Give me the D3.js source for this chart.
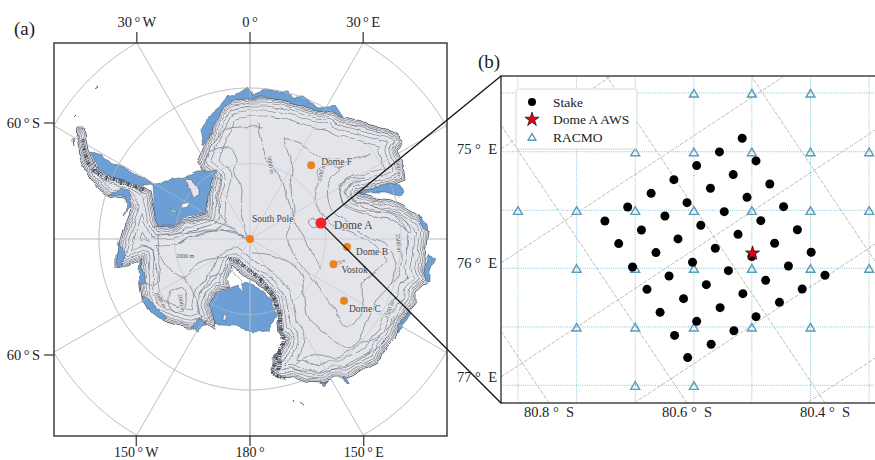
<!DOCTYPE html>
<html>
<head>
<meta charset="utf-8">
<script src="https://d3js.org/d3.v7.min.js"></script>
<style>
  html, body { margin: 0; padding: 0; background: #fff; overflow: hidden; }
  text { font-family: "Liberation Serif", serif; fill: #222; }
</style>
</head>
<body>
<div id="chart"></div>
<script>
// PANEL A DATA
// sites, lon / lat
const siteNames = ["Dome F", "South Pole", "Dome B", "Vostok", "Dome C"];
const siteLons = [39.7, 0, 94.7, 106.8, 123.35];
const siteLats = [-77.32, -90, -77.1, -78.46, -75.1];
const domeA = [77.37, -80.37];

const lonTop = [-30, 0, 30];
const lonTopLabels = ["30 ° W", "0 °", "30 ° E"];
const lonBottom = [-150, 180, 150];
const lonBottomLabels = ["150 ° W", "180 °", "150 ° E"];
const parallelTicks = [-116, 116];

// outlines, in map units east / south of the pole
const groundingLine = [[-23,-136],[-17,-138],[0,-141],[17,-141],[33,-139],[50,-134],[67,-129],[83,-127],[93,-121],[110,-117],[127,-112],[140,-109],[150,-104],[153,-96],[147,-89],[153,-74],[155,-59],[140,-53],[122,-49],[108,-46],[125,-41],[142,-39],[152,-34],[163,-27],[174,-17],[178,-6],[176,6],[175,19],[173,29],[180,41],[166,53],[166,63],[158,73],[150,84],[145,99],[135,109],[128,123],[108,133],[98,139],[85,139],[72,144],[55,143],[45,139],[28,138],[22,133],[22,119],[32,111],[37,99],[29,93],[27,76],[24,61],[13,48],[0,41],[-10,33],[-17,27],[-22,39],[-20,48],[-29,50],[-38,60],[-41,66],[-37,76],[-34,91],[-43,84],[-57,89],[-63,89],[-80,84],[-100,74],[-108,59],[-110,46],[-108,19],[-127,29],[-134,28],[-134,16],[-128,-1],[-125,-12],[-118,-32],[-125,-41],[-142,-43],[-150,-49],[-160,-61],[-170,-81],[-174,-99],[-173,-111],[-166,-111],[-164,-99],[-162,-89],[-155,-73],[-135,-63],[-115,-56],[-100,-47],[-97,-34],[-95,-22],[-90,-11],[-77,-12],[-67,-19],[-43,-25],[-42,-46],[-37,-61],[-45,-67],[-48,-69],[-52,-79],[-47,-91],[-37,-112],[-27,-132]];

const iceShelves = [
  [[-98,-54],[-83,-59],[-67,-62],[-53,-68],[-32,-69],[-37,-61],[-42,-46],[-43,-26],[-67,-21],[-77,-13],[-90,-11],[-95,-22],[-97,-39]],
  [[-20,49],[-10,45],[-3,44],[12,51],[22,61],[26,78],[18,92],[3,93],[-15,87],[-28,86],[-34,86],[-39,71],[-41,65],[-32,52]],
  [[-50,-107],[-42,-122],[-30,-132],[-23,-144],[-17,-142],[-2,-152],[3,-144],[17,-149],[37,-149],[43,-142],[52,-142],[60,-136],[70,-132],[85,-134],[93,-122],[83,-127],[67,-129],[50,-134],[33,-139],[17,-141],[0,-141],[-17,-138],[-25,-133],[-37,-112],[-47,-94]],
  [[115,-49],[128,-51],[138,-56],[150,-54],[153,-46],[150,-42],[135,-46],[122,-46],[110,-45]],
  [[167,-24],[177,-16],[178,-6],[173,-11],[168,-19]],
  [[175,26],[178,16],[187,19],[185,24],[180,29],[180,43],[176,41],[174,33]],
  [[155,79],[160,71],[162,73],[152,89],[148,93],[148,86]],
  [[95,136],[100,144],[97,145],[94,139]],
  [[70,144],[77,143],[73,147]],
  [[-160,-87],[-147,-84],[-137,-74],[-125,-71],[-107,-61],[-98,-54],[-107,-53],[-137,-60],[-152,-70],[-157,-81]],
  [[-142,-44],[-130,-52],[-122,-47],[-118,-34],[-127,-24],[-122,-36],[-128,-44]],
  [[-132,3],[-125,16],[-127,29],[-130,29],[-133,16]],
  [[-110,19],[-107,33],[-105,44],[-110,46],[-111,31]],
  [[-107,58],[-98,63],[-82,79],[-88,81],[-100,73],[-108,61]],
  [[-60,89],[-52,79],[-43,84],[-53,92]],
];

const iceRises = [
  [[-65,-62],[-58,-61],[-52,-52],[-52,-44],[-57,-42],[-62,-51]],
  [[-27,76],[-23,78],[-25,83],[-28,81]],
];
const shelfHoles = [
  [[-80,-31],[-73,-26],[-77,-27]],
  [[-67,-34],[-60,-36],[-63,-31],[-69,-30]],
  [[-23,39],[-17,31],[-12,38],[-5,53],[-13,46],[-20,49]],
];

const contours = [
  [[33,-101],[50,-96],[70,-82],[87,-79],[103,-77],[93,-72],[73,-72],[67,-66],[68,-56],[65,-39],[70,-29],[78,-19],[90,-11],[103,-6],[127,8],[135,21],[127,31],[112,44],[112,74],[98,88],[83,68],[63,41],[45,19],[37,-4],[43,-26],[40,-52],[43,-69],[37,-89],[33,-101]],
  [[8,-116],[18,-79],[32,-59],[38,-36],[48,-12],[63,14],[72,30]],
  [[3,14],[28,18],[52,36],[54,61],[58,79],[75,93],[95,109],[108,103],[118,81],[128,59],[148,36],[152,16],[150,3]],
  [[42,128],[62,116],[88,118],[108,106],[135,93],[148,76]],
  [[38,129],[65,133],[95,128],[128,109]],
  [[112,-59],[95,-49],[102,-39],[128,-32],[152,-22],[162,-6]],
  [[115,-62],[92,-56],[92,-39],[108,-29],[138,-26],[155,-12],[158,11]],
  [[122,-86],[95,-76],[78,-52],[82,-29],[98,-16],[118,-2],[135,4],[145,21],[140,46]],
  [[-92,-4],[-90,13],[-77,33],[-65,39],[-53,24],[-23,18]],
  [[-110,6],[-100,9],[-93,33],[-95,46],[-105,43]],
  [[-65,39],[-53,63],[-47,83],[-37,76]],
  [[-50,56],[-40,39],[-27,33],[-22,26]],
  [[-80,53],[-67,49],[-65,68],[-75,73],[-82,63],[-80,53]],
  [[-70,4],[-50,-6],[-17,-7],[0,1]],
  [[-40,-87],[-23,-92],[-13,-79],[-17,-66],[-7,-49],[-10,-32],[-2,-2]],
  [[-38,-59],[-30,-59],[-33,-39],[-27,-19],[-7,-2]],
  [[-97,-12],[-70,-16],[-40,-19],[-13,-9]],
  [[-100,-2],[-67,-6],[-37,-9],[-3,-2]],
  [[-45,-74],[-40,-89],[-25,-109],[-10,-112],[12,-112]],
  [[58,-17],[64,-20],[72,-15],[70,-11],[62,-12],[58,-17]],
  [[85,24],[95,21],[88,26]],
];

// mountain belts where the contours run together
const denseBelts = [
  [[-22,19],[-10,25],[2,33],[12,43],[22,56],[28,71],[31,91],[33,106],[25,121],[23,133],[35,139]],
  [[-168,-100],[-165,-85],[-158,-72],[-145,-62],[-125,-56],[-105,-48]],
  [[30,112],[28,133]],
];

const islands = [
  [[-153,-153],[-156,-151]],
  [[-175,-122],[-173,-124]],
  [[-178,-99],[-177,-93]],
  [[43,160],[44,162]],
  [[49,163],[53,166]],
];

const coastRings = [18, 12, 8, 5, 3, 1.5];

const contourLabelText = ["3000 m", "3500 m", "2000 m", "2000 m", "2000 m", "1500 m", "2500 m", "2500 m"];
const contourLabelX = [20, 72, -65, -69, -90, 140, 148, 148];
const contourLabelY = [-74, -66, 18, 64, 61, 71, 4, -72];
const contourLabelAngle = [78, -75, 0, 80, 60, -70, 85, 85];

// PANEL B DATA
const stakeLat = [80.520,80.553,80.500,80.586,80.533,80.619,80.480,80.566,80.652,80.513,80.600,80.686,80.460,80.546,80.632,80.719,80.493,80.580,80.666,80.440,80.526,80.613,80.699,80.473,80.559,80.645,80.420,80.506,80.592,80.679,80.453,80.540,80.626,80.400,80.486,80.572,80.658,80.433,80.519,80.605,80.466,80.552,80.639,80.500,80.586,80.532,80.618,80.565,80.599];
const stakeLon = [74.906,75.026,75.105,75.146,75.225,75.269,75.307,75.345,75.389,75.424,75.471,75.509,75.506,75.550,75.588,75.632,75.629,75.670,75.711,75.708,75.749,75.789,75.830,75.827,75.871,75.909,75.906,75.944,75.994,76.035,76.026,76.067,76.114,76.108,76.152,76.190,76.231,76.228,76.269,76.313,76.345,76.392,76.433,76.471,76.512,76.594,76.635,76.713,76.830];
const awsLat = 80.505;
const awsLon = 75.915;

const racmoLats = [80.845, 80.760, 80.675, 80.590, 80.506, 80.421, 80.336];
const racmoLons = [74.509, 75.024, 75.538, 76.046, 76.561, 77.073];
// RACMO cells shown, [lat index, lon index]
const racmoCells = [[3,0],[4,0],[5,0],[2,1],[3,1],[4,1],[5,1],[6,1],[0,2],[1,2],[2,2],[3,2],[4,2],[5,2],[6,2],[1,3],[2,3],[3,3],[4,3],[5,3],[6,3],[1,4],[2,4],[3,4],[4,4],[5,4],[2,5],[3,5]];

const latTicks = [80.8, 80.6, 80.4];
const latTickLabels = ["80.8 °  S", "80.6 °  S", "80.4 °  S"];
const lonTicks = [75, 76, 77];
const lonTickLabels = ["75 °  E", "76 °  E", "77 °  E"];
const tiltedLats = [80.8, 80.6, 80.4, 80.19];
const tiltedLons = [75, 76, 77, 78, 79];

const legendLabels = ["Stake", "Dome A AWS", "RACMO"];

// CONSTANTS
const width = 875;
const height = 460;
const frameA = { left: 54, right: 447, top: 43, bottom: 436 };
const frameB = { left: 501, right: 875, top: 76, bottom: 403 };
const landColor = "#e4e5ea";
const shelfColor = "#6c9fd6";
const contourColor = "#6f737c";
const orange = "#ea8320";
const gridBlue = "#86c5d8";
const triBlue = "#5b9ab9";

const svg = d3
  .select("#chart")
  .append("svg")
  .attr("width", width)
  .attr("height", height)
  .attr("viewBox", [0, 0, width, height]);

const defs = svg.append("defs");

const addClip = (id, f) => {
  defs
    .append("clipPath")
    .attr("id", id)
    .append("rect")
    .attr("x", f.left)
    .attr("y", f.top)
    .attr("width", f.right - f.left)
    .attr("height", f.bottom - f.top);
};
addClip("clip-a", frameA);
addClip("clip-b", frameB);

// small wiggle so the traced outlines do not look straight
const rough = defs
  .append("filter")
  .attr("id", "rough")
  .attr("filterUnits", "userSpaceOnUse")
  .attr("color-interpolation-filters", "sRGB")
  .attr("x", frameA.left)
  .attr("y", frameA.top)
  .attr("width", frameA.right - frameA.left)
  .attr("height", frameA.bottom - frameA.top);
rough
  .append("feTurbulence")
  .attr("type", "fractalNoise")
  .attr("baseFrequency", 0.07)
  .attr("numOctaves", 2)
  .attr("seed", 4)
  .attr("result", "noise");
rough
  .append("feDisplacementMap")
  .attr("in", "SourceGraphic")
  .attr("in2", "noise")
  .attr("scale", 6)
  .attr("xChannelSelector", "R")
  .attr("yChannelSelector", "G");

// PANEL A
const mapX = d3.scaleLinear().domain([-196, 197]).range([frameA.left, frameA.right]);
const mapY = d3.scaleLinear().domain([-196, 197]).range([frameA.top, frameA.bottom]);

const projection = d3
  .geoAzimuthalEquidistant()
  .rotate([0, 90])
  .scale(432.6)
  .translate([mapX(0), mapY(0)])
  .precision(0.3);
const geoPath = d3.geoPath(projection);
const graticule = d3.geoGraticule().extent([[-180, -90], [180.01, -50]]).step([30, 10]);

const mapLine = d3.line().x((d) => mapX(d[0])).y((d) => mapY(d[1]));
const closedPath = (pts) => mapLine(pts) + "Z";

const panelA = svg.append("g");
const mapLayer = panelA.append("g").attr("clip-path", "url(#clip-a)");

mapLayer
  .append("path")
  .datum(graticule())
  .attr("d", geoPath)
  .attr("fill", "none")
  .attr("stroke", "#cfcfcf")
  .attr("stroke-width", 1);

const roughLayer = mapLayer.append("g").attr("filter", "url(#rough)");

defs.append("clipPath").attr("id", "clip-land").append("path").attr("d", closedPath(groundingLine));

const landLayer = roughLayer.append("g");
landLayer.append("path").attr("d", closedPath(groundingLine)).attr("fill", landColor);

const ringLayer = landLayer.append("g").attr("clip-path", "url(#clip-land)");
// nested coastal contours: a wide stroke, then land colour on top leaves one thin line inland
coastRings.forEach((inset) => {
  ringLayer
    .append("path")
    .attr("d", closedPath(groundingLine))
    .attr("fill", "none")
    .attr("stroke", contourColor)
    .attr("stroke-linejoin", "round")
    .attr("stroke-width", 2 * inset + 0.55);
  ringLayer
    .append("path")
    .attr("d", closedPath(groundingLine))
    .attr("fill", "none")
    .attr("stroke", landColor)
    .attr("stroke-linejoin", "round")
    .attr("stroke-width", 2 * inset - 0.55);
});

landLayer
  .append("path")
  .attr("d", closedPath(groundingLine))
  .attr("fill", "none")
  .attr("stroke", "#4f5660")
  .attr("stroke-width", 0.8);

// shelves sit on top of the ice sheet edge
roughLayer
  .selectAll(".shelf")
  .data(iceShelves)
  .enter()
  .append("path")
  .attr("d", closedPath)
  .attr("fill", shelfColor)
  .attr("stroke", "#4f5660")
  .attr("stroke-width", 0.5);

const smooth = d3
  .line()
  .x((d) => mapX(d[0]))
  .y((d) => mapY(d[1]))
  .curve(d3.curveCatmullRom);

const detailLayer = roughLayer.append("g");

detailLayer
  .selectAll(".contour")
  .data(contours)
  .enter()
  .append("path")
  .attr("d", smooth)
  .attr("fill", "none")
  .attr("stroke", contourColor)
  .attr("stroke-width", 0.7);

detailLayer
  .selectAll(".belt")
  .data(denseBelts)
  .enter()
  .append("path")
  .attr("d", smooth)
  .attr("fill", "none")
  .attr("stroke", "#4c515b")
  .attr("stroke-width", 4)
  .attr("stroke-dasharray", "1,0.8,2.2,1.2,0.8,1.6");

detailLayer
  .selectAll(".rise")
  .data(iceRises)
  .enter()
  .append("path")
  .attr("d", closedPath)
  .attr("fill", landColor)
  .attr("stroke", "#4f5660")
  .attr("stroke-width", 0.5);

detailLayer
  .selectAll(".hole")
  .data(shelfHoles)
  .enter()
  .append("path")
  .attr("d", closedPath)
  .attr("fill", "#fff")
  .attr("stroke", "#4f5660")
  .attr("stroke-width", 0.4);

detailLayer
  .selectAll(".island")
  .data(islands)
  .enter()
  .append("path")
  .attr("d", mapLine)
  .attr("fill", "none")
  .attr("stroke", "#5a5f68")
  .attr("stroke-width", 1);

// graticule shows faintly through the ice sheet
mapLayer
  .append("path")
  .datum(graticule())
  .attr("d", geoPath)
  .attr("fill", "none")
  .attr("stroke", "#bfc1c6")
  .attr("stroke-width", 0.7)
  .attr("stroke-opacity", 0.8);

contourLabelText.forEach((t, i) => {
  mapLayer
    .append("text")
    .attr("transform", `translate(${mapX(contourLabelX[i])},${mapY(contourLabelY[i])}) rotate(${contourLabelAngle[i]})`)
    .attr("text-anchor", "middle")
    .attr("dominant-baseline", "middle")
    .attr("stroke", landColor)
    .attr("stroke-width", 1.5)
    .attr("paint-order", "stroke")
    .style("font-size", "6px")
    .style("fill", "#555")
    .text(t);
});

// sites
siteNames.forEach((name, i) => {
  const p = projection([siteLons[i], siteLats[i]]);
  panelA
    .append("circle")
    .attr("cx", p[0])
    .attr("cy", p[1])
    .attr("r", 4)
    .attr("fill", orange);
});

const siteLabelDx = [10, 2, 9, 8, 5];
const siteLabelDy = [-3, -19, 6, 7, 9];
siteNames.forEach((name, i) => {
  const p = projection([siteLons[i], siteLats[i]]);
  panelA
    .append("text")
    .attr("x", p[0] + siteLabelDx[i])
    .attr("y", p[1] + siteLabelDy[i])
    .attr("dominant-baseline", "middle")
    .attr("stroke", landColor)
    .attr("stroke-width", 2)
    .attr("paint-order", "stroke")
    .style("font-size", "9.5px")
    .style("fill", "#444")
    .text(name);
});

const domeAPoint = projection(domeA);

// frame and ticks
panelA
  .append("rect")
  .attr("x", frameA.left)
  .attr("y", frameA.top)
  .attr("width", frameA.right - frameA.left)
  .attr("height", frameA.bottom - frameA.top)
  .attr("fill", "none")
  .attr("stroke", "#333")
  .attr("stroke-width", 1.4);

// the tick positions are where those meridians leave the frame
const topAxis = d3
  .scaleOrdinal()
  .domain(lonTop)
  .range(lonTop.map((d) => mapX(0) + (mapY(0) - frameA.top) * Math.tan((d * Math.PI) / 180)));
const bottomAxis = d3
  .scaleOrdinal()
  .domain(lonBottom)
  .range(lonBottom.map((d) => mapX(0) - (frameA.bottom - mapY(0)) * Math.tan((d * Math.PI) / 180)));

lonTop.forEach((d, i) => {
  panelA
    .append("line")
    .attr("x1", topAxis(d))
    .attr("x2", topAxis(d))
    .attr("y1", frameA.top - 11)
    .attr("y2", frameA.top)
    .attr("stroke", "#333")
    .attr("stroke-width", 1.2);
  panelA
    .append("text")
    .attr("x", topAxis(d))
    .attr("y", 27)
    .attr("text-anchor", "middle")
    .style("font-size", "14.5px")
    .style("word-spacing", "-1.2px")
    .text(lonTopLabels[i]);
});

lonBottom.forEach((d, i) => {
  panelA
    .append("line")
    .attr("x1", bottomAxis(d))
    .attr("x2", bottomAxis(d))
    .attr("y1", frameA.bottom)
    .attr("y2", frameA.bottom + 10)
    .attr("stroke", "#333")
    .attr("stroke-width", 1.2);
  panelA
    .append("text")
    .attr("x", bottomAxis(d))
    .attr("y", 457)
    .attr("text-anchor", "middle")
    .style("font-size", "14px")
    .style("word-spacing", "-1px")
    .text(lonBottomLabels[i]);
});

parallelTicks.forEach((d) => {
  panelA
    .append("line")
    .attr("x1", frameA.left - 10)
    .attr("x2", frameA.left)
    .attr("y1", mapY(d))
    .attr("y2", mapY(d))
    .attr("stroke", "#333")
    .attr("stroke-width", 1.2);
  panelA
    .append("text")
    .attr("x", frameA.left - 14)
    .attr("y", mapY(d) + 5)
    .attr("text-anchor", "end")
    .style("font-size", "14.5px")
    .style("word-spacing", "-1.2px")
    .text("60 ° S");
});

svg
  .append("text")
  .attr("x", 14)
  .attr("y", 35)
  .style("font-size", "19px")
  .text("(a)");

// PANEL B
const latScale = d3.scaleLinear().domain([80.8696, 80.3275]).range([frameB.left, frameB.right]);
const lonScale = d3.scaleLinear().domain([74.36, 77.228]).range([frameB.top, frameB.bottom]);

const panelB = svg.append("g");
const plot = panelB.append("g").attr("clip-path", "url(#clip-b)");

// grid of the tilted geographic lines, both families drift with the map rotation
const latDrift = 0.317;
const lonDrift = 2.165;

plot
  .selectAll(".lat-line")
  .data(tiltedLats)
  .enter()
  .append("line")
  .attr("x1", (d) => latScale(d))
  .attr("y1", lonScale(77.228))
  .attr("x2", (d) => latScale(d + latDrift))
  .attr("y2", lonScale(74.36))
  .attr("stroke", "#bdbdbd")
  .attr("stroke-width", 1)
  .attr("stroke-dasharray", "4,1.5");

plot
  .selectAll(".lon-line")
  .data(tiltedLons)
  .enter()
  .append("line")
  .attr("x1", latScale(80.8696))
  .attr("y1", (d) => lonScale(d))
  .attr("x2", latScale(80.3275))
  .attr("y2", (d) => lonScale(d - lonDrift))
  .attr("stroke", "#bdbdbd")
  .attr("stroke-width", 1)
  .attr("stroke-dasharray", "4,1.5");

plot
  .selectAll(".racmo-v")
  .data(racmoLats)
  .enter()
  .append("line")
  .attr("x1", (d) => latScale(d))
  .attr("x2", (d) => latScale(d))
  .attr("y1", frameB.top)
  .attr("y2", frameB.bottom)
  .attr("stroke", gridBlue)
  .attr("stroke-width", 1)
  .attr("stroke-dasharray", "1,1.2");

plot
  .selectAll(".racmo-h")
  .data(racmoLons)
  .enter()
  .append("line")
  .attr("x1", frameB.left)
  .attr("x2", frameB.right)
  .attr("y1", (d) => lonScale(d))
  .attr("y2", (d) => lonScale(d))
  .attr("stroke", gridBlue)
  .attr("stroke-width", 1)
  .attr("stroke-dasharray", "1,1.2");

const triangle = d3.symbol().type(d3.symbolTriangle).size(34);
const star = d3.symbol().type(d3.symbolStar).size(62);

plot
  .selectAll(".racmo")
  .data(racmoCells)
  .enter()
  .append("path")
  .attr("d", triangle)
  .attr("transform", (d) => `translate(${latScale(racmoLats[d[0]])},${lonScale(racmoLons[d[1]]) + 1.5})`)
  .attr("fill", "none")
  .attr("stroke", triBlue)
  .attr("stroke-width", 1.4);

plot
  .selectAll(".stake")
  .data(stakeLat)
  .enter()
  .append("circle")
  .attr("cx", (d) => latScale(d))
  .attr("cy", (d, i) => lonScale(stakeLon[i]))
  .attr("r", 4.5)
  .attr("fill", "#000");

plot
  .append("path")
  .attr("d", star)
  .attr("transform", `translate(${latScale(awsLat)},${lonScale(awsLon)})`)
  .attr("fill", "#e60012")
  .attr("stroke", "#111")
  .attr("stroke-width", 0.7);

// frame has no right edge, the panel runs off the page
panelB
  .append("path")
  .attr("d", `M${frameB.right},${frameB.top}H${frameB.left}V${frameB.bottom}H${frameB.right}`)
  .attr("fill", "none")
  .attr("stroke", "#444")
  .attr("stroke-width", 1.5);

// zoom lines from Dome A to the corners of panel b
[frameB.top, frameB.bottom].forEach((y) => {
  svg
    .append("line")
    .attr("x1", domeAPoint[0])
    .attr("y1", domeAPoint[1])
    .attr("x2", frameB.left)
    .attr("y2", y)
    .attr("stroke", "#111")
    .attr("stroke-width", 1.3);
});

// Dome A on top of the lines
svg
  .append("circle")
  .attr("cx", domeAPoint[0])
  .attr("cy", domeAPoint[1])
  .attr("r", 5.5)
  .attr("fill", "#f5222d");
svg
  .append("text")
  .attr("x", domeAPoint[0] + 13)
  .attr("y", domeAPoint[1] + 3)
  .attr("dominant-baseline", "middle")
  .attr("stroke", landColor)
  .attr("stroke-width", 2)
  .attr("paint-order", "stroke")
  .style("font-size", "11.5px")
  .style("fill", "#444")
  .text("Dome A");

latTicks.forEach((d, i) => {
  panelB
    .append("text")
    .attr("x", latScale(d))
    .attr("y", 417)
    .attr("text-anchor", "middle")
    .style("font-size", "14.5px")
    .style("white-space", "pre")
    .text(latTickLabels[i]);
});

lonTicks.forEach((d, i) => {
  panelB
    .append("text")
    .attr("x", 497)
    .attr("y", lonScale(d) + 5)
    .attr("text-anchor", "end")
    .style("font-size", "14.5px")
    .style("white-space", "pre")
    .text(lonTickLabels[i]);
});

svg
  .append("text")
  .attr("x", 478)
  .attr("y", 68)
  .style("font-size", "19px")
  .text("(b)");

// legend
const legend = panelB.append("g");
legend
  .append("rect")
  .attr("x", 516)
  .attr("y", 89)
  .attr("width", 121)
  .attr("height", 60)
  .attr("rx", 2.5)
  .attr("fill", "#fff")
  .attr("fill-opacity", 0.9)
  .attr("stroke", "#d8d8d8")
  .attr("stroke-width", 1);

const legendY = d3.scalePoint().domain(legendLabels).range([102, 137]);

legend
  .append("circle")
  .attr("cx", 532)
  .attr("cy", legendY("Stake"))
  .attr("r", 4)
  .attr("fill", "#000");
legend
  .append("path")
  .attr("d", star)
  .attr("transform", `translate(532,${legendY("Dome A AWS")})`)
  .attr("fill", "#e60012")
  .attr("stroke", "#111")
  .attr("stroke-width", 0.7);
legend
  .append("path")
  .attr("d", d3.symbol().type(d3.symbolTriangle).size(26))
  .attr("transform", `translate(532,${legendY("RACMO") + 1})`)
  .attr("fill", "none")
  .attr("stroke", triBlue)
  .attr("stroke-width", 1.4);

legendLabels.forEach((d) => {
  legend
    .append("text")
    .attr("x", 553)
    .attr("y", legendY(d) + 4.5)
    .style("font-size", "13.5px")
    .text(d);
});
</script>
</body>
</html>
